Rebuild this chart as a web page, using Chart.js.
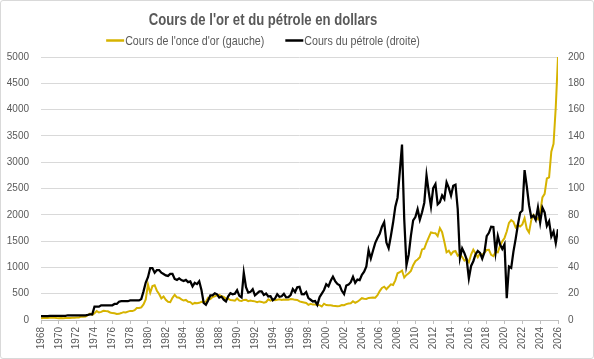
<!DOCTYPE html>
<html>
<head>
<meta charset="utf-8">
<script src="https://cdn.jsdelivr.net/npm/chart.js@4/dist/chart.umd.min.js"></script>
<style>
  html, body { margin: 0; padding: 0; background: #fff; }
  #wrap {
    width: 594px; height: 359px; box-sizing: border-box;
    border: 1px solid #d9d9d9; border-radius: 3px; background: #fff;
  }
  canvas { display: block; }
</style>
</head>
<body>
<div id="wrap"><canvas id="chart" width="592" height="357"></canvas></div>
<script>
const titleText = "Cours de l'or et du pétrole en dollars";
const seriesNames = ["Cours de l'once d'or (gauche)", 'Cours du pétrole (droite)'];

// one value per quarter (Jan, Apr, Jul, Oct), 1968 -> 2025, then Jan 2026
const startYear = 1968;
const gold = [
  35, 38, 39, 39,
  42, 43, 42, 38,
  35, 36, 35, 37,
  38, 39, 41, 42,
  46, 49, 65, 64,
  65, 90, 120, 100,
  130, 170, 143, 155,
  175, 170, 166, 143,
  131, 128, 113, 117,
  132, 149, 144, 159,
  173, 170, 188, 227,
  227, 239, 296, 391,
  675, 517, 645, 661,
  557, 494, 409, 447,
  384, 347, 340, 422,
  480, 431, 422, 392,
  370, 381, 347, 340,
  302, 325, 317, 326,
  345, 341, 348, 423,
  400, 438, 451, 468,
  477, 451, 437, 406,
  404, 378, 375, 367,
  410, 368, 362, 381,
  383, 357, 368, 359,
  354, 338, 353, 344,
  329, 342, 392, 367,
  387, 377, 385, 392,
  379, 391, 386, 383,
  400, 393, 383, 381,
  354, 344, 334, 324,
  289, 309, 293, 296,
  287, 283, 256, 310,
  285, 280, 282, 270,
  266, 261, 268, 283,
  282, 302, 314, 317,
  357, 328, 347, 379,
  415, 404, 399, 420,
  424, 427, 425, 470,
  549, 610, 633, 586,
  631, 679, 666, 754,
  889, 909, 940, 807,
  858, 890, 934, 1043,
  1118, 1149, 1193, 1342,
  1356, 1473, 1572, 1665,
  1656, 1650, 1594, 1747,
  1670, 1487, 1286, 1316,
  1244, 1299, 1311, 1222,
  1250, 1198, 1131, 1159,
  1097, 1242, 1336, 1266,
  1192, 1266, 1236, 1281,
  1331, 1335, 1238, 1215,
  1292, 1285, 1413, 1495,
  1560, 1683, 1847, 1900,
  1867, 1760, 1807, 1777,
  1817, 1937, 1732, 1664,
  1898, 2000, 1950, 1916,
  2034, 2331, 2398, 2690,
  2710, 3200, 3350, 4050,
  5000
];
const oil = [
  3.0, 3.0, 3.0, 3.0,
  3.1, 3.1, 3.1, 3.1,
  3.2, 3.2, 3.2, 3.2,
  3.6, 3.6, 3.6, 3.6,
  3.6, 3.6, 3.6, 3.6,
  3.6, 3.9, 4.3, 4.3,
  10.1, 10.1, 10.1, 11.2,
  11.2, 11.2, 11.2, 11.2,
  11.2, 12.2, 12.2, 13.9,
  14.3, 14.3, 14.3, 14.3,
  14.85, 14.85, 14.85, 14.85,
  14.85, 15.9, 21.8, 28.5,
  32.5, 39.5, 39.5, 36.0,
  38.0, 38.0, 36.0, 35.0,
  33.9, 33.5, 35.0, 35.0,
  31.2, 30.5, 31.7, 30.4,
  29.7, 30.5, 28.8, 29.3,
  25.6, 28.3, 27.3, 29.5,
  22.9, 13.0, 11.6, 14.9,
  18.7, 18.7, 20.3, 19.5,
  17.0, 17.8, 15.5, 14.1,
  18.0, 20.4, 19.6, 20.0,
  22.7, 18.4, 17.2, 35.9,
  25.0, 20.8, 21.4, 23.4,
  18.8, 20.2, 21.8, 21.7,
  19.1, 20.2, 17.9, 18.1,
  15.0, 16.4, 19.6, 17.7,
  18.0, 19.9, 17.3, 17.4,
  18.9, 23.5, 21.3, 24.9,
  25.2, 19.7, 19.6, 21.3,
  16.7, 15.4, 14.1, 14.4,
  11.5, 17.3, 20.1, 22.8,
  27.2, 25.6, 29.8, 33.0,
  29.6, 27.4, 26.4, 22.2,
  19.7, 26.2, 26.9, 28.8,
  32.9, 28.3, 30.7, 30.3,
  34.3, 36.7, 40.7, 53.1,
  46.8, 52.9, 58.7, 62.4,
  65.5, 70.9, 74.4, 58.9,
  54.6, 63.9, 74.1, 86.2,
  93.0, 112.6, 133.4, 76.6,
  41.7, 49.7, 64.2, 75.7,
  78.3, 84.3, 76.3, 81.9,
  89.2, 110.0, 97.3, 86.3,
  100.3, 103.3, 87.9, 89.6,
  94.8, 92.0, 104.7, 100.5,
  94.6, 102.0, 102.9, 84.4,
  47.2, 54.5, 50.9, 46.2,
  31.7, 41.1, 44.7, 49.8,
  52.5, 51.1, 46.6, 51.6,
  63.7, 66.3, 71.0, 70.8,
  51.4, 63.9, 57.4, 54.0,
  57.5, 16.6, 40.7, 39.6,
  52.0, 61.7, 72.4, 81.5,
  83.2, 114.0, 101.6, 87.3,
  78.1, 79.4, 76.0, 85.6,
  74.1, 85.4, 81.8, 71.6,
  75.1, 63.5, 67.3, 58.5,
  69
];
const dates = gold.map((_, i) => startYear + i / 4);

const goldColor = '#D6B300';
const oilColor = '#000000';
const textColor = '#595959';
const fontFamily = '"Liberation Sans", Arial, sans-serif';
const narrow = 0.82; // no condensed font installed, squeeze the header text instead

// title + legend drawn by hand so they can sit off-centre like the original
const header = {
  id: 'header',
  afterDraw(chart) {
    const ctx = chart.ctx;
    const cx = 262;
    ctx.save();
    ctx.scale(narrow, 1);
    ctx.fillStyle = textColor;
    ctx.textAlign = 'center';
    ctx.textBaseline = 'alphabetic';
    ctx.font = 'bold 16px ' + fontFamily;
    ctx.fillText(titleText, cx / narrow, 24);

    ctx.font = '13px ' + fontFamily;
    const w = seriesNames.map(s => ctx.measureText(s).width * narrow);
    ctx.restore();

    const sw = 18, gap = 1, spacing = 21;
    const total = sw + gap + w[0] + spacing + sw + gap + w[1];
    let x = cx - total / 2;
    const colors = [goldColor, oilColor];
    for (let i = 0; i < 2; i++) {
      ctx.save();
      ctx.strokeStyle = colors[i];
      ctx.lineWidth = 2.5;
      ctx.beginPath();
      ctx.moveTo(x, 39.5);
      ctx.lineTo(x + sw, 39.5);
      ctx.stroke();
      x += sw + gap;
      ctx.scale(narrow, 1);
      ctx.font = '13px ' + fontFamily;
      ctx.textAlign = 'left';
      ctx.fillStyle = textColor;
      ctx.fillText(seriesNames[i], x / narrow, 44);
      ctx.restore();
      x += w[i] + spacing;
    }
  }
};

new Chart(document.getElementById('chart'), {
  type: 'line',
  data: {
    datasets: [
      {
        label: seriesNames[0],
        data: dates.map((d, i) => ({ x: d, y: gold[i] })),
        borderColor: goldColor,
        borderWidth: 2,
        pointRadius: 0,
        yAxisID: 'y',
        order: 1
      },
      {
        label: seriesNames[1],
        data: dates.map((d, i) => ({ x: d, y: oil[i] })),
        borderColor: oilColor,
        borderWidth: 2.25,
        pointRadius: 0,
        yAxisID: 'y2',
        order: 0
      }
    ]
  },
  options: {
    responsive: false,
    animation: false,
    layout: { padding: { top: 56, left: 0, right: 0, bottom: 0 } },
    plugins: {
      legend: { display: false },
      title: { display: false },
      tooltip: { enabled: false }
    },
    scales: {
      x: {
        type: 'linear',
        min: 1968,
        max: 2026,
        afterFit: s => { s.height = 38; },
        border: { display: true, color: '#bfbfbf' },
        grid: { drawOnChartArea: false, drawTicks: true, tickLength: 4, color: '#bfbfbf' },
        ticks: {
          stepSize: 2,
          autoSkip: false,
          minRotation: 90,
          maxRotation: 90,
          padding: 3,
          color: textColor,
          font: { family: fontFamily, size: 10 },
          callback: v => String(v)
        }
      },
      y: {
        position: 'left',
        min: 0,
        max: 5000,
        afterFit: s => { s.width = 40; },
        border: { display: false },
        grid: { color: '#d9d9d9', drawTicks: false },
        ticks: {
          stepSize: 500,
          padding: 12,
          color: textColor,
          font: { family: fontFamily, size: 10 },
          callback: v => String(v)
        }
      },
      y2: {
        position: 'right',
        min: 0,
        max: 200,
        afterFit: s => { s.width = 35; },
        border: { display: false },
        grid: { drawOnChartArea: false, drawTicks: false },
        ticks: {
          stepSize: 20,
          padding: 10,
          color: textColor,
          font: { family: fontFamily, size: 10 },
          callback: v => String(v)
        }
      }
    }
  },
  plugins: [header]
});
</script>
</body>
</html>
